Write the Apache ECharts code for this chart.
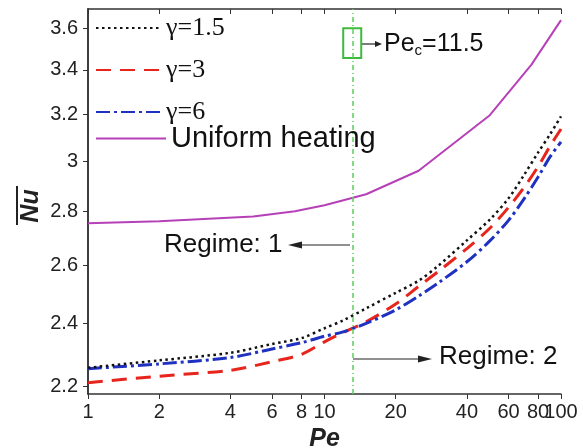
<!DOCTYPE html>
<html>
<head>
<meta charset="utf-8">
<script src="https://cdn.jsdelivr.net/npm/echarts@6/dist/echarts.min.js"></script>
<style>
  html, body { margin: 0; padding: 0; background: #fff; }
  #chart { width: 583px; height: 448px; }
</style>
</head>
<body>
<div id="chart"></div>
<script>
// Pe values where the gamma curves were read
const pe = [1, 2, 4, 6, 8, 10, 12, 15, 20, 25, 30, 40, 50, 60, 70, 80, 90, 100];
const nuGamma15 = [2.258, 2.281, 2.305, 2.333, 2.352, 2.384, 2.41, 2.45, 2.503, 2.545, 2.595, 2.69, 2.768, 2.85, 2.945, 3.035, 3.113, 3.19];
const nuGamma3 = [2.212, 2.232, 2.25, 2.277, 2.3, 2.34, 2.37, 2.405, 2.465, 2.525, 2.575, 2.66, 2.735, 2.815, 2.895, 2.977, 3.063, 3.135];
const nuGamma6 = [2.255, 2.27, 2.29, 2.317, 2.337, 2.358, 2.372, 2.4, 2.445, 2.492, 2.535, 2.612, 2.688, 2.765, 2.85, 2.935, 3.018, 3.08];
// uniform heating curve (straight segments between these points)
const peUniform = [1, 2, 5, 7.5, 10, 15, 25, 50, 75, 100];
const nuUniform = [2.754, 2.762, 2.78, 2.8, 2.823, 2.866, 2.96, 3.195, 3.425, 3.641];
// tick labels
const xTicks = [1, 2, 4, 6, 8, 10, 20, 40, 60, 80, 100];
const yTicks = [2.2, 2.4, 2.6, 2.8, 3, 3.2, 3.4, 3.6];
// where the green critical line is drawn
const peCritical = 13.1;

const lg = Math.log10;
const FONT = '"Liberation Sans", Arial, sans-serif';
const SERIF = '"Liberation Serif", "Times New Roman", serif';

// both axes are logarithmic: plot log10 of the values on value axes
function pairs(xs, ys) {
  return xs.map((x, i) => [lg(x), lg(ys[i])]);
}

const frameLine = { show: true, lineStyle: { color: '#333', width: 1.5 } };
const noSymbol = { opacity: 0 };
const xLabelStyle = {
  formatter: (v) => String(Math.round(Math.pow(10, v))),
  fontSize: 20,
  fontFamily: FONT,
  color: '#222',
  margin: 8
};

const chart = echarts.init(document.getElementById('chart'));

const option = {
  animation: false,
  grid: { left: 88, right: 22, top: 9, bottom: 54, outerBoundsMode: 'none', containLabel: false },
  xAxis: [
    {
      type: 'value',
      min: 0,
      max: 2,
      position: 'bottom',
      axisLine: frameLine,
      axisTick: { show: true, customValues: xTicks.map(lg), length: 5, lineStyle: { color: '#333' } },
      // last label ("100") overlaps "80" like in the original; it lives on the helper axis below
      axisLabel: Object.assign({ customValues: xTicks.slice(0, -1).map(lg) }, xLabelStyle),
      splitLine: { show: false },
      name: 'Pe',
      nameLocation: 'middle',
      nameGap: 30,
      nameTextStyle: { fontSize: 25, fontWeight: 'bold', fontStyle: 'italic', fontFamily: FONT, color: '#222' }
    },
    {
      type: 'value',
      min: 0,
      max: 2,
      position: 'top',
      axisLine: frameLine,
      axisTick: { show: true, inside: true, customValues: xTicks.map(lg), length: 5, lineStyle: { color: '#333' } },
      axisLabel: { show: false },
      splitLine: { show: false }
    },
    {
      type: 'value',
      min: 0,
      max: 2,
      position: 'bottom',
      offset: 0,
      axisLine: { show: false },
      axisTick: { show: false },
      axisLabel: Object.assign({ customValues: xTicks.slice(-1).map(lg) }, xLabelStyle),
      splitLine: { show: false }
    }
  ],
  yAxis: [
    {
      type: 'value',
      min: lg(2.178),
      max: lg(3.697),
      position: 'left',
      axisLine: frameLine,
      axisTick: { show: true, customValues: yTicks.map(lg), length: 5, lineStyle: { color: '#333' } },
      axisLabel: {
        customValues: yTicks.map(lg),
        formatter: (v) => String(Math.round(Math.pow(10, v) * 10) / 10),
        showMinLabel: true,
        showMaxLabel: true,
        fontSize: 20,
        fontFamily: FONT,
        color: '#222',
        margin: 10
      },
      splitLine: { show: false }
    },
    {
      type: 'value',
      min: lg(2.178),
      max: lg(3.697),
      position: 'right',
      axisLine: frameLine,
      axisTick: { show: true, inside: true, customValues: yTicks.map(lg), length: 5, lineStyle: { color: '#333' } },
      axisLabel: { show: false },
      splitLine: { show: false }
    }
  ],
  legend: [
    {
      data: ['γ=1.5'], left: 95, top: 15, padding: 0, itemWidth: 65, itemHeight: 12, itemStyle: noSymbol,
      textStyle: { fontFamily: SERIF, fontSize: 26, color: '#111' }
    },
    {
      data: ['γ=3'], left: 95, top: 57, padding: 0, itemWidth: 65, itemHeight: 12, itemStyle: noSymbol,
      textStyle: { fontFamily: SERIF, fontSize: 26, color: '#111' }
    },
    {
      data: ['γ=6'], left: 95, top: 99, padding: 0, itemWidth: 65, itemHeight: 12, itemStyle: noSymbol,
      textStyle: { fontFamily: SERIF, fontSize: 26, color: '#111' }
    },
    {
      data: ['Uniform heating'], left: 95, top: 124, padding: 0, itemWidth: 70, itemHeight: 12, itemStyle: noSymbol,
      textStyle: { fontFamily: FONT, fontSize: 29, color: '#111' }
    }
  ],
  series: [
    {
      name: 'Uniform heating',
      type: 'line',
      data: pairs(peUniform, nuUniform),
      symbol: 'none',
      lineStyle: { color: '#b640b8', width: 2 },
      itemStyle: { color: '#b640b8' }
    },
    {
      name: 'γ=3',
      type: 'line',
      data: pairs(pe, nuGamma3),
      smooth: 0.3,
      symbol: 'none',
      lineStyle: { color: '#e8251c', width: 3, type: [15, 9] },
      itemStyle: { color: '#e8251c' }
    },
    {
      name: 'γ=6',
      type: 'line',
      data: pairs(pe, nuGamma6),
      smooth: 0.3,
      symbol: 'none',
      lineStyle: { color: '#1f31c0', width: 3, type: [14, 4, 3, 4] },
      itemStyle: { color: '#1f31c0' }
    },
    {
      name: 'γ=1.5',
      type: 'line',
      data: pairs(pe, nuGamma15),
      smooth: 0.3,
      symbol: 'none',
      lineStyle: { color: '#111', width: 2.5, type: [2.5, 3.5] },
      itemStyle: { color: '#111' },
      markLine: {
        silent: true,
        symbol: ['none', 'none'],
        label: { show: false },
        lineStyle: { color: '#5ccf5c', width: 1.5, type: [5, 3, 1, 3] },
        data: [{ xAxis: lg(peCritical) }]
      },
      markArea: {
        silent: true,
        itemStyle: { color: 'rgba(0,0,0,0)', borderColor: '#3dba3d', borderWidth: 2 },
        data: [[{ xAxis: lg(12.0), yAxis: lg(3.6) }, { xAxis: lg(14.3), yAxis: lg(3.456) }]]
      }
    }
  ],
  graphic: [
    // y axis title: Nu with an overbar
    {
      type: 'text', x: 31, y: 206, rotation: Math.PI / 2,
      style: { text: 'Nu', fontSize: 25, fontWeight: 'bold', fontStyle: 'italic', fontFamily: FONT, fill: '#222', align: 'center', verticalAlign: 'middle' }
    },
    { type: 'line', shape: { x1: 17, y1: 186, x2: 17, y2: 225 }, style: { stroke: '#222', lineWidth: 2 } },
    // Pe_c callout
    { type: 'line', shape: { x1: 362, y1: 44, x2: 377, y2: 44 }, style: { stroke: '#222', lineWidth: 1.2 } },
    { type: 'polygon', shape: { points: [[375, 41], [382, 44], [375, 47]] }, style: { fill: '#222' } },
    {
      type: 'text', x: 384, y: 44,
      style: {
        text: '{a|Pe}{b|c}{a|=11.5}',
        verticalAlign: 'middle',
        rich: {
          a: { fontSize: 25, fontFamily: FONT, fill: '#111', lineHeight: 28 },
          b: { fontSize: 15, fontFamily: FONT, fill: '#111', lineHeight: 12, verticalAlign: 'bottom' }
        }
      }
    },
    // Regime 1
    {
      type: 'text', x: 164, y: 245,
      style: { text: 'Regime: 1', fontSize: 26, fontFamily: FONT, fill: '#111', verticalAlign: 'middle' }
    },
    { type: 'line', shape: { x1: 300, y1: 245, x2: 350, y2: 245 }, style: { stroke: '#222', lineWidth: 1.2 } },
    { type: 'polygon', shape: { points: [[288, 245], [302, 241.5], [302, 248.5]] }, style: { fill: '#222' } },
    // Regime 2
    { type: 'line', shape: { x1: 353, y1: 359, x2: 420, y2: 359 }, style: { stroke: '#222', lineWidth: 1.2 } },
    { type: 'polygon', shape: { points: [[432, 359], [418, 355.5], [418, 362.5]] }, style: { fill: '#222' } },
    {
      type: 'text', x: 439, y: 357,
      style: { text: 'Regime: 2', fontSize: 26, fontFamily: FONT, fill: '#111', verticalAlign: 'middle' }
    }
  ]
};

chart.setOption(option);
</script>
</body>
</html>
